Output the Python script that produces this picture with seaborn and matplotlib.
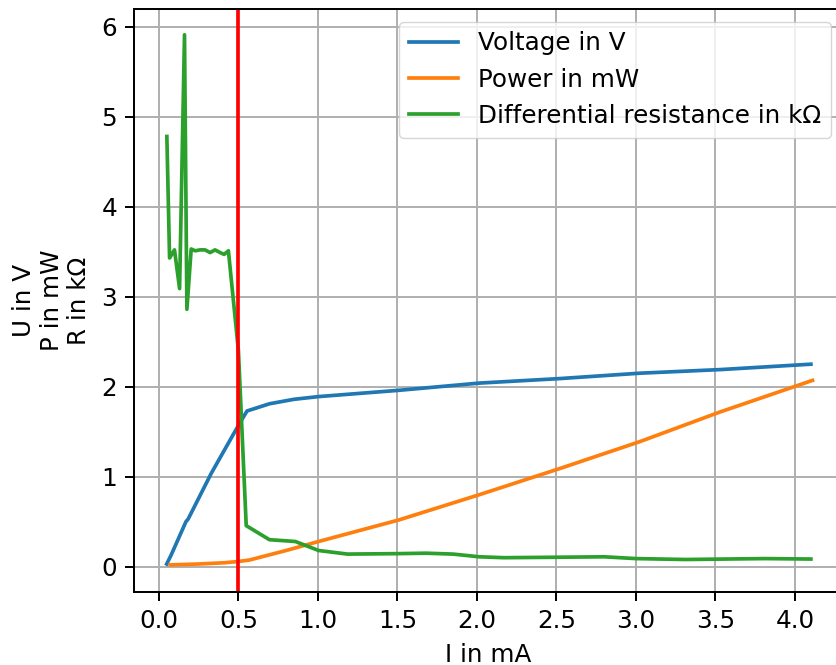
import matplotlib
matplotlib.use("Agg")
import matplotlib.pyplot as plt
import seaborn as sns

# Voltage series
I_u = [0.049, 0.077, 0.17, 0.184, 0.33, 0.50, 0.554, 0.695, 0.85, 1.004, 1.51, 2.015, 2.52, 3.025, 3.53, 4.10]
U = [0.03, 0.13, 0.50, 0.53, 1.04, 1.57, 1.73, 1.81, 1.86, 1.89, 1.96, 2.04, 2.09, 2.15, 2.19, 2.25]

# Power series
I_p = [0.07, 0.25, 0.414, 0.50, 0.569, 0.80, 1.004, 1.51, 2.015, 2.52, 3.025, 3.53, 4.11]
P = [0.02, 0.03, 0.044, 0.058, 0.074, 0.18, 0.28, 0.52, 0.80, 1.09, 1.39, 1.72, 2.07]

# Differential resistance series
I_r = [0.05, 0.067, 0.098, 0.13, 0.161, 0.176, 0.203, 0.228, 0.259, 0.29, 0.322, 0.353,
       0.385, 0.41, 0.437, 0.50, 0.549, 0.695, 0.858, 1.004, 1.186, 1.50, 1.68, 1.85,
       2.015, 2.17, 2.50, 2.80, 3.00, 3.31, 3.81, 4.10]
R = [4.78, 3.43, 3.52, 3.09, 5.91, 2.86, 3.53, 3.51, 3.52, 3.52, 3.49, 3.52,
     3.49, 3.47, 3.51, 2.40, 0.456, 0.30, 0.28, 0.18, 0.14, 0.145, 0.15, 0.14,
     0.11, 0.10, 0.105, 0.11, 0.09, 0.08, 0.09, 0.085]

marker_I = 0.5

labels = ["Voltage in V", "Power in mW", "Differential resistance in kΩ"]

FS = 17.7
K = FS / 10.0  # scale factor relative to matplotlib defaults

plt.rcParams["font.family"] = ["DejaVu Sans"]
plt.rcParams["font.size"] = FS

fig = plt.figure(figsize=(8.36, 6.65), dpi=100)
ax = fig.add_axes([0.1606, 0.1102, 0.8478, 0.8758])

lw = 1.5 * K
sns.lineplot(x=I_u, y=U, ax=ax, color="#1f77b4", lw=lw, label=labels[0])
sns.lineplot(x=I_p, y=P, ax=ax, color="#ff7f0e", lw=lw, label=labels[1])
sns.lineplot(x=I_r, y=R, ax=ax, color="#2ca02c", lw=lw, label=labels[2])
ax.axvline(marker_I, color="red", lw=lw)

ax.set_xlim(-0.155, 4.302)
ax.set_ylim(-0.278, 6.193)
ax.set_xticks([0, 0.5, 1, 1.5, 2, 2.5, 3, 3.5, 4])
ax.set_xticklabels(["0.0", "0.5", "1.0", "1.5", "2.0", "2.5", "3.0", "3.5", "4.0"])
ax.set_yticks([0, 1, 2, 3, 4, 5, 6])
ax.grid(True, color="#b0b0b0", lw=0.8 * K)
ax.set_axisbelow(True)
for s in ax.spines.values():
    s.set_linewidth(0.8 * K)
ax.tick_params(length=3.5 * K, width=0.8 * K, labelsize=FS, pad=3.5 * K)

ax.set_xlabel("I in mA", fontsize=FS, labelpad=4 * K)
ax.set_ylabel("U in V\nP in mW\nR in kΩ", fontsize=FS, labelpad=4 * K)

ax.legend(loc="upper right", fontsize=FS, framealpha=0.8, borderaxespad=0.5)

fig.savefig("out.png", dpi=100)
